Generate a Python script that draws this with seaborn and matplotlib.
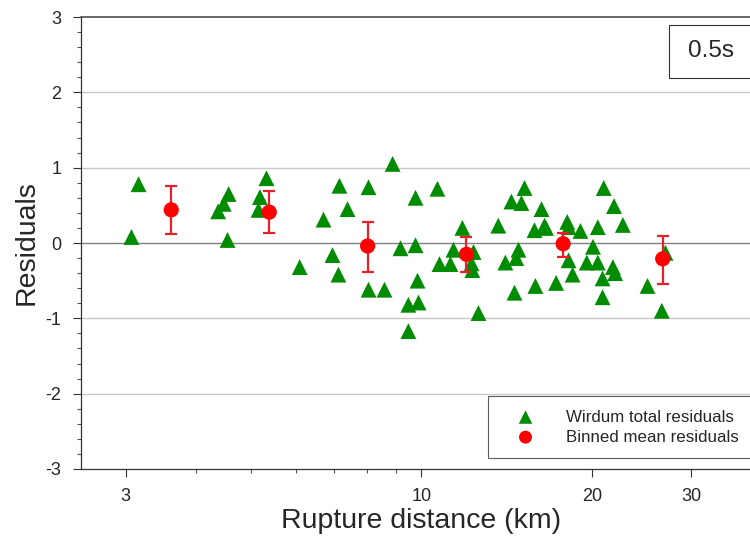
import seaborn as sns
import pandas as pd
import numpy as np
import matplotlib
import matplotlib.pyplot as plt
from matplotlib.ticker import FixedLocator, FixedFormatter, NullFormatter, MultipleLocator
from matplotlib.patches import Rectangle

matplotlib.use('Agg')

sns.set_theme(style="ticks")
plt.rcParams['font.family'] = ['Liberation Sans', 'DejaVu Sans']
plt.rcParams['axes.unicode_minus'] = False

# total residuals (rupture distance km, residual)
resid_dist = [3.07, 3.16, 4.37, 4.47, 4.56, 4.54, 5.15, 5.18, 5.32, 6.09,
              6.71, 6.96, 7.13, 7.16, 7.40, 8.06, 8.06, 8.60, 8.89, 9.18,
              9.48, 9.48, 9.76, 9.76, 9.84, 9.88, 10.67, 10.76, 11.25, 11.39,
              11.81, 12.26, 12.30, 12.36, 12.61, 13.67, 14.07, 14.42, 14.6, 14.71,
              14.84, 15.02, 15.21, 15.84, 15.9, 16.3, 16.5, 16.6, 17.3, 18.1,
              18.2, 18.2, 18.5, 19.1, 19.6, 20.1, 20.5, 20.5, 20.9, 20.9,
              21.0, 21.8, 21.9, 22.0, 22.7, 25.1, 26.6, 27.0]
resid_val = [0.08, 0.78, 0.42, 0.52, 0.65, 0.04, 0.44, 0.61, 0.86, -0.32,
             0.31, -0.16, -0.42, 0.76, 0.45, 0.74, -0.62, -0.62, 1.05, -0.07,
             -0.82, -1.17, 0.60, -0.03, -0.50, -0.79, 0.72, -0.28, -0.28, -0.09,
             0.20, -0.27, -0.36, -0.12, -0.93, 0.23, -0.26, 0.55, -0.66, -0.20,
             -0.09, 0.53, 0.73, 0.17, -0.57, 0.45, 0.23, 0.20, -0.53, 0.28,
             0.21, -0.23, -0.42, 0.16, -0.26, -0.05, 0.21, -0.26, -0.47, -0.72,
             0.73, -0.32, 0.49, -0.40, 0.24, -0.57, -0.90, -0.13]

# binned means with error bars
bin_dist = [3.61, 5.38, 8.03, 12.01, 17.8, 26.7]
bin_mean = [0.44, 0.41, -0.04, -0.15, -0.01, -0.21]
bin_lo = [0.12, 0.13, -0.39, -0.39, -0.19, -0.54]
bin_hi = [0.76, 0.69, 0.28, 0.08, 0.13, 0.09]

resid = pd.DataFrame({'dist': resid_dist, 'res': resid_val})
binned = pd.DataFrame({'dist': bin_dist, 'res': bin_mean})

green = '#008c00'
red = '#ff0000'

fig = plt.figure(figsize=(7.5, 5.4), dpi=100)
ax = fig.add_axes([0.108, 0.1315, 0.908, 0.837])
ax.set_xscale('log')

# grid lines
for yv in [-2, -1, 1, 2]:
    ax.axhline(yv, color='#c8c8c8', lw=1, zorder=0)
ax.axhline(0, color='#808080', lw=1, zorder=0)

sns.scatterplot(data=resid, x='dist', y='res', marker='^', s=130,
                color=green, edgecolor='none', ax=ax, zorder=3,
                label='Wirdum total residuals')

yerr = [np.array(bin_mean) - np.array(bin_lo), np.array(bin_hi) - np.array(bin_mean)]
ax.errorbar(bin_dist, bin_mean, yerr=yerr, fmt='none', ecolor='#e8202a',
            elinewidth=1.6, capsize=4, capthick=1.6, zorder=4)
sns.scatterplot(data=binned, x='dist', y='res', marker='o', s=120,
                color=red, edgecolor='none', ax=ax, zorder=5,
                label='Binned mean residuals')

ax.set_xlim(2.5, 40)
ax.set_ylim(-3, 3)
ax.xaxis.set_major_locator(FixedLocator([3, 10, 20, 30]))
ax.xaxis.set_major_formatter(FixedFormatter(['3', '10', '20', '30']))
ax.xaxis.set_minor_locator(FixedLocator([4, 5, 6, 7, 8, 9]))
ax.xaxis.set_minor_formatter(NullFormatter())
ax.yaxis.set_major_locator(MultipleLocator(1))
ax.yaxis.set_minor_locator(MultipleLocator(0.2))

ax.tick_params(which='major', length=6, width=0.8, color='#333333',
               labelsize=13, pad=8)
ax.tick_params(which='minor', length=3, width=0.8, color='#555555')

for side in ['left', 'bottom']:
    ax.spines[side].set_color('#333333')
    ax.spines[side].set_linewidth(0.9)
ax.spines['top'].set_color('#555555')
ax.spines['right'].set_visible(False)

ax.set_xlabel('Rupture distance (km)', fontsize=20.5, labelpad=2)
ax.set_ylabel('Residuals', fontsize=20.5, labelpad=4)

leg = ax.legend(loc='lower left', bbox_to_anchor=(0.598, 0.024),
                frameon=True, fancybox=False, fontsize=12.2,
                borderpad=0.8, handlelength=2.8, handletextpad=1.0,
                labelspacing=0.3, borderaxespad=0, markerscale=0.85)
leg.get_frame().set_edgecolor('#333333')
leg.get_frame().set_linewidth(0.8)

# period box in the top right corner
ax.add_patch(Rectangle((0.8634, 0.865), 0.2, 0.117, transform=ax.transAxes,
                       facecolor='white', edgecolor='#333333', lw=0.8,
                       clip_on=False, zorder=6))
ax.text(0.891, 0.924, '0.5s', transform=ax.transAxes, fontsize=17.5,
        ha='left', va='center', zorder=7)

fig.savefig('out.png', dpi=100)
